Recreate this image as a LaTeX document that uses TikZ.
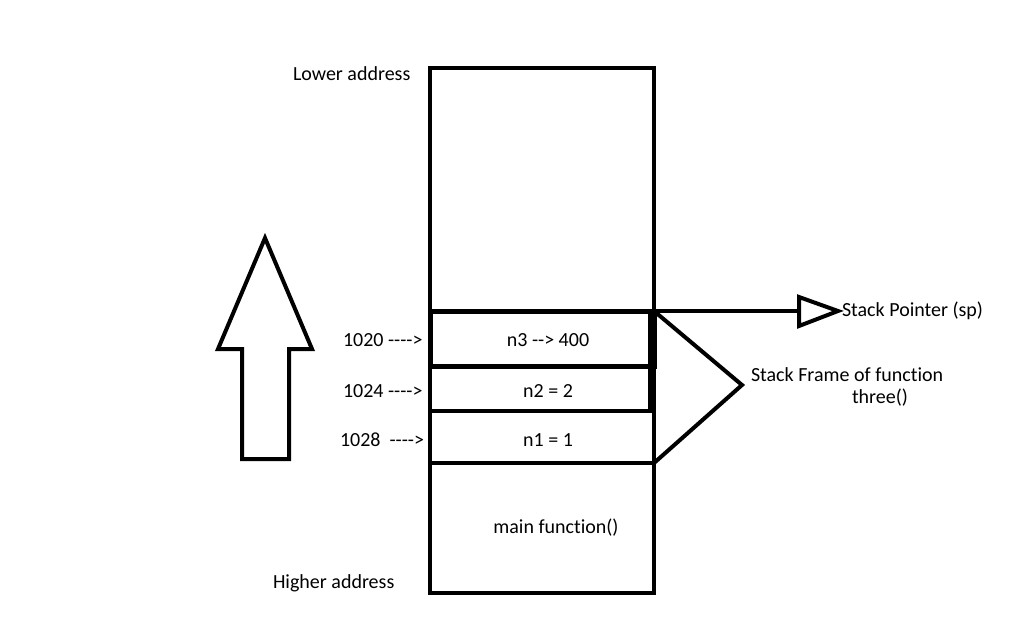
\documentclass[tikz,border=0pt]{standalone}
\usepackage{fontspec}
\newfontfamily\calib[Ligatures=NoCommon]{Carlito}
\usetikzlibrary{arrows.meta}
\begin{document}
\begin{tikzpicture}[x=1pt,y=-1pt,
  every node/.style={font=\calib\fontsize{20}{24}\selectfont, inner sep=0pt, outer sep=0pt},
  cell/.style={draw, line width=4pt, minimum width=224pt, anchor=north west},
  thick4/.style={line width=4pt},
  lbl/.style={anchor=base}]
\useasboundingbox (0,0) rectangle (1024,618);
\fill[white] (0,0) rectangle (1024,618);
% outer stack
\node[cell, minimum height=525pt] (stack) at (430,68) {};
% stack frame cells
\node[cell, minimum height=55pt, line width=5pt] (c1) at (430,311) {};
\node[cell, minimum height=45pt] (c2) at (430,366) {};
\node[cell, minimum height=52pt] (c3) at (430,411) {};
\draw[line width=4pt] (650,311) -- (650,411);
% cell texts
\node[lbl] (t1) at (548,346) {n3 --> 400};
\node[lbl] (t2) at (548,397) {n2 = 2};
\node[lbl] (t3) at (548,446) {n1 = 1};
\node[lbl] (tm) at (556,533) {main function()};
% address labels
\node[lbl, anchor=base west] (a1) at (343,346) {1020 ---->};
\node[lbl, anchor=base west] (a2) at (343,397) {1024 ---->};
\node[lbl, anchor=base west] (a3) at (340,446) {1028 \ ---->};
\node[lbl, anchor=base west] (lo) at (293,80) {Lower address};
\node[lbl, anchor=base west] (hi) at (273,588) {Higher address};
% stack pointer
\node[lbl, anchor=west] (sp) at (842,311) {Stack Pointer (sp)};
\coordinate (trib) at (799,311);
\draw[thick4] (c1.north east) -- (trib);
\draw[thick4, line join=miter] (trib) -- (799,297) -- (838,311) -- (799,326) -- cycle;
% stack frame bracket
\coordinate (apex) at (742,385);
\draw[thick4, line join=miter] (c1.north east) -- (apex) -- (c3.south east);
\node[lbl, anchor=base west] (sf1) at (751,381) {Stack Frame of function};
\node[lbl, anchor=base west] (sf2) at (852,403) {three()};
% up arrow
\draw[thick4, line join=miter] (265,238) -- (312,349) -- (289,349) -- (289,459) -- (242,459) -- (242,349) -- (218,349) -- cycle;
\end{tikzpicture}
\end{document}
